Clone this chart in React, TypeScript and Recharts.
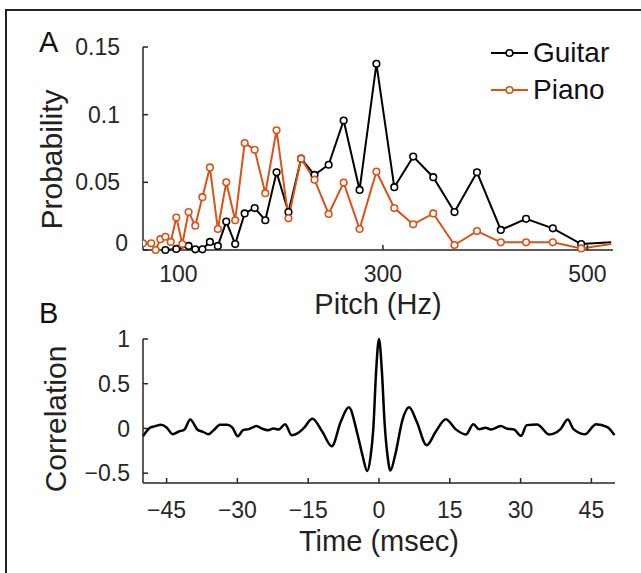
import React from 'react';
import { LineChart, Line, XAxis, YAxis, Legend } from 'recharts';

const FONT = '"Liberation Sans", Arial, Helvetica, sans-serif';
const AXIS = '#262626';
const ORANGE = '#D95319';

// Panel A: pitch distributions (semitone bins, Hz)
const guitarHz = [
  87.31, 98.0, 110.0, 116.54, 123.47, 130.81, 138.59, 146.83, 155.56, 164.81,
  174.61, 185.0, 196.0, 207.65, 220.0, 233.08, 246.94, 261.63, 277.18, 293.66,
  311.13, 329.63, 349.23, 369.99, 392.0, 415.3, 440.0, 466.16, 493.88, 523.25,
];
const guitarProb = [
  0, 0.0008, 0.003, 0.0005, 0.0005, 0.006, 0.003, 0.021, 0.0044, 0.027,
  0.031, 0.022, 0.0574, 0.028, 0.0675, 0.0555, 0.063, 0.0957, 0.0444, 0.1376,
  0.0464, 0.069, 0.0538, 0.028, 0.0574, 0.0148, 0.023, 0.016, 0.0044, 0.0057,
];
const pianoHz = [
  65.41, 73.42, 77.78, 82.41, 87.31, 92.5, 98.0, 103.83, 110.0, 116.54,
  123.47, 130.81, 138.59, 146.83, 155.56, 164.81, 174.61, 185.0, 196.0, 207.65,
  220.0, 233.08, 246.94, 261.63, 277.18, 293.66, 311.13, 329.63, 349.23, 369.99,
  392.0, 415.3, 440.0, 466.16, 493.88, 523.25,
];
const pianoProb = [
  0.005, 0.005, 0, 0.008, 0.0098, 0.006, 0.024, 0.0044, 0.028, 0.018,
  0.039, 0.061, 0.0155, 0.05, 0.022, 0.079, 0.074, 0.042, 0.0885, 0.0234,
  0.0675, 0.052, 0.0266, 0.0498, 0.0155, 0.058, 0.031, 0.019, 0.027, 0.0037,
  0.014, 0.0057, 0.0057, 0.0057, 0.0012, 0.0044,
];
const pitchTicks = [100, 300, 500];
const probTicks = [0, 0.05, 0.1, 0.15];

// Panel B: autocorrelation
const lagMs = [
  -50, -48.4, -47.4, -46.2, -45, -43.7, -42.4, -41.2, -40, -38.5,
  -37.3, -36.1, -35, -33.7, -32.2, -31.1, -29.9, -28.8, -27.6, -26,
  -24.7, -23.5, -22.4, -21.2, -19.9, -18.5, -17.3, -16, -14.1, -12,
  -10, -8.1, -6.4, -4.6, -3.5, -2.5, -1.8, -1.2, -0.6, 0,
  0.6, 1.2, 1.8, 2.4, 3.5, 4.96, 6.37, 8, 10.1, 12,
  14.15, 16.3, 18.4, 20, 21.2, 22.6, 23.7, 25.8, 27.2, 28.6,
  30.1, 31.3, 33.5, 36.1, 38.4, 40, 41.2, 43.6, 46, 48.3, 49.9,
];
const corr = [
  -0.087, 0.011, 0.026, 0.041, 0.011, -0.064, -0.034, -0.011, 0.1, -0.011,
  -0.038, -0.064, -0.019, 0.041, 0.041, 0.011, -0.087, -0.019, -0.008, 0.026,
  -0.004, -0.019, 0, -0.011, 0.048, -0.075, -0.056, 0, 0.108, -0.038,
  -0.199, 0.075, 0.236, -0.056, -0.3, -0.476, -0.32, 0, 0.65, 1,
  0.65, 0.05, -0.3, -0.47, -0.28, 0.093, 0.236, 0.075, -0.188, -0.038,
  0.104, -0.011, -0.068, 0.048, -0.008, 0.007, -0.011, 0.026, -0.004, -0.011,
  -0.083, 0.037, 0.045, -0.068, -0.011, 0.1, -0.008, -0.064, 0.048, 0.018, -0.075,
];
const lagTicks = [-45, -30, -15, 0, 15, 30, 45];
const corrTicks = [-0.5, 0, 0.5, 1];

const guitarData = guitarHz.map((hz, i) => ({ hz, p: guitarProb[i] }));
const pianoData = pianoHz.map((hz, i) => ({ hz, p: pianoProb[i] }));
const corrData = lagMs.map((t, i) => ({ t, r: corr[i] }));

const minus = (v: number) => String(v).replace('-', '\u2212');

const tickStyle = { fontSize: 23, fill: AXIS, fontFamily: FONT };
const labelStyle = { fontSize: 29, fill: '#222', fontFamily: FONT };
const axisLine = { stroke: AXIS, strokeWidth: 1.5 };

function openDot(color: string, n: number) {
  return (p: any) => {
    if (p.index === n - 1) return <g key={`d${p.index}`} />;
    return (
      <circle
        key={`d${p.index}`}
        cx={p.cx}
        cy={p.cy}
        r={3.3}
        fill="#fff"
        stroke={color}
        strokeWidth={1.6}
      />
    );
  };
}

// matlab puts the shared "0" of panel A a bit off the other labels
function probTick(p: any) {
  const zero = p.payload.value === 0;
  return (
    <text
      x={p.x + (zero ? 8 : 0)}
      y={p.y + (zero ? -7 : 0)}
      dy="0.355em"
      textAnchor="end"
      {...tickStyle}
    >
      {String(p.payload.value)}
    </text>
  );
}

function yLabel(text: string, cx: number, shift: number) {
  return (p: any) => {
    const vb = p.viewBox || { x: 0, y: 0, height: 0 };
    const x = vb.x + cx;
    const y = vb.y + vb.height / 2 + shift;
    return (
      <text
        x={x}
        y={y}
        transform={`rotate(-90, ${x}, ${y})`}
        textAnchor="middle"
        dy="0.355em"
        {...labelStyle}
        fontSize={30}
      >
        {text}
      </text>
    );
  };
}

function renderLegend(props: any) {
  const items = props.payload || [];
  return (
    <div style={{ fontFamily: FONT }}>
      {items.map((it: any) => (
        <div key={it.value} style={{ display: 'flex', alignItems: 'center', height: 37 }}>
          <svg width={42} height={20}>
            <line x1={0} y1={10} x2={37} y2={10} stroke={it.color} strokeWidth={2} />
            <circle cx={18.5} cy={10} r={3.3} fill="#fff" stroke={it.color} strokeWidth={1.6} />
          </svg>
          <span style={{ fontSize: 28, color: '#111', lineHeight: '28px' }}>{it.value}</span>
        </div>
      ))}
    </div>
  );
}

const panelLetter: React.CSSProperties = {
  position: 'absolute',
  fontFamily: FONT,
  fontSize: 29,
  color: '#111',
  lineHeight: 1,
};

export default function App() {
  return (
    <div
      style={{
        position: 'absolute',
        left: 0,
        top: 0,
        width: 641,
        height: 573,
        background: '#fff',
        overflow: 'hidden',
      }}
    >
      <div
        style={{
          position: 'absolute',
          left: 5,
          top: 9,
          width: 660,
          height: 600,
          border: '2px solid #222',
        }}
      />
      <div style={{ ...panelLetter, left: 39, top: 28 }}>A</div>
      <div style={{ ...panelLetter, left: 39, top: 299 }}>B</div>

      <div style={{ position: 'absolute', left: 0, top: 0 }}>
        <LineChart width={641} height={320} margin={{ top: 47, right: 28, bottom: 0, left: 0 }}>
          <XAxis
            dataKey="hz"
            type="number"
            domain={[65.4, 525]}
            ticks={pitchTicks}
            allowDataOverflow
            height={70}
            tick={tickStyle}
            tickSize={-5}
            tickMargin={21}
            axisLine={axisLine}
            tickLine={axisLine}
            label={{ value: 'Pitch (Hz)', position: 'insideBottom', offset: 6, style: labelStyle }}
          />
          <YAxis
            type="number"
            domain={[0, 0.15]}
            ticks={probTicks}
            width={143}
            tick={probTick}
            tickSize={-5}
            tickMargin={28}
            axisLine={axisLine}
            tickLine={axisLine}
            label={{ content: yLabel('Probability', 51, 11) }}
          />
          <Legend
            layout="vertical"
            align="center"
            verticalAlign="middle"
            content={renderLegend}
            wrapperStyle={{ position: 'absolute', top: 34, left: 491, width: 148 }}
          />
          <Line
            data={guitarData}
            dataKey="p"
            name="Guitar"
            stroke="#000"
            strokeWidth={2}
            dot={openDot('#000', guitarData.length)}
            activeDot={false}
            isAnimationActive={false}
          />
          <Line
            data={pianoData}
            dataKey="p"
            name="Piano"
            stroke={ORANGE}
            strokeWidth={2}
            dot={openDot(ORANGE, pianoData.length)}
            activeDot={false}
            isAnimationActive={false}
          />
        </LineChart>
      </div>

      <div style={{ position: 'absolute', left: 0, top: 320 }}>
        <LineChart
          width={641}
          height={253}
          data={corrData}
          margin={{ top: 19, right: 26, bottom: 0, left: 0 }}
        >
          <XAxis
            dataKey="t"
            type="number"
            domain={[-50, 50]}
            ticks={lagTicks}
            tickFormatter={minus}
            height={90}
            tick={tickStyle}
            tickSize={-5}
            tickMargin={24}
            axisLine={axisLine}
            tickLine={axisLine}
            label={{ value: 'Time (msec)', position: 'insideBottom', offset: 22, style: labelStyle }}
          />
          <YAxis
            type="number"
            domain={[-0.61, 1]}
            ticks={corrTicks}
            tickFormatter={minus}
            width={143}
            tick={tickStyle}
            tickSize={-5}
            tickMargin={18}
            axisLine={axisLine}
            tickLine={axisLine}
            label={{ content: yLabel('Correlation', 55, 8) }}
          />
          <Line
            dataKey="r"
            type="monotone"
            stroke="#000"
            strokeWidth={2.5}
            dot={false}
            activeDot={false}
            isAnimationActive={false}
          />
        </LineChart>
      </div>
    </div>
  );
}
